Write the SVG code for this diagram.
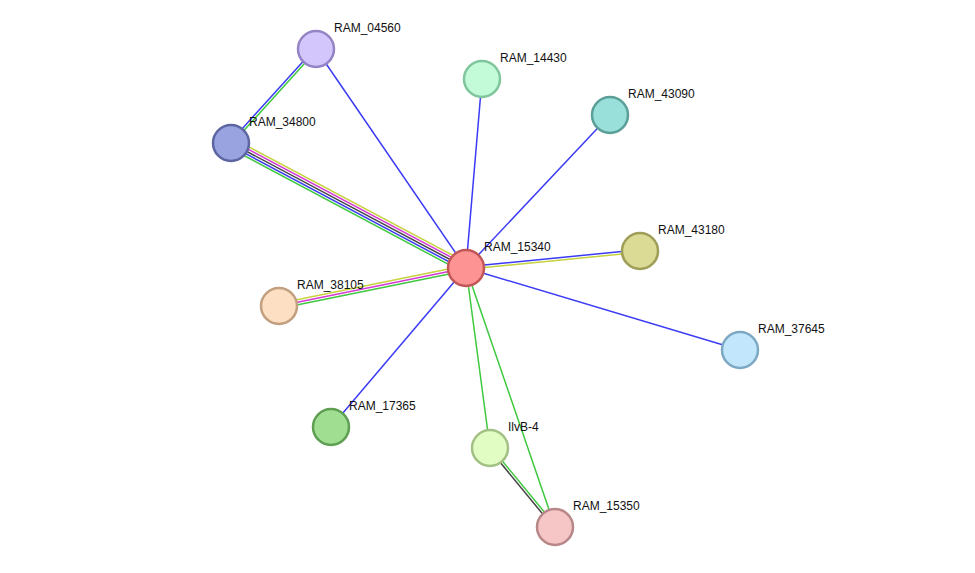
<svg xmlns="http://www.w3.org/2000/svg" width="975" height="573" viewBox="0 0 975 573">
<style>
.e{stroke-width:1.5;fill:none}
.b{stroke:#3b3bf5}.g{stroke:#3ec93e}.y{stroke:#c6d23e}.m{stroke:#d63ad6}.k{stroke:#444444}
.n circle{stroke-width:2.5}
.n text{font-family:"Liberation Sans",Arial,sans-serif;font-size:12px;fill:#111}
</style>
<rect width="975" height="573" fill="#ffffff"/>
<g id="edges">
<line class="e y" x1="233.35" y1="138.58" x2="468.35" y2="263.58"/>
<line class="e m" x1="232.18" y1="140.79" x2="467.18" y2="265.79"/>
<line class="e k" x1="231" y1="143" x2="466" y2="268"/>
<line class="e b" x1="229.83" y1="145.21" x2="464.83" y2="270.21"/>
<line class="e g" x1="228.65" y1="147.42" x2="463.65" y2="272.42"/>
<line class="e y" x1="278.5" y1="303.55" x2="465.5" y2="265.55"/>
<line class="e m" x1="279" y1="306" x2="466" y2="268"/>
<line class="e g" x1="279.5" y1="308.45" x2="466.5" y2="270.45"/>
<line class="e b" x1="315.07" y1="48.16" x2="230.07" y2="142.16"/>
<line class="e g" x1="316.93" y1="49.84" x2="231.93" y2="143.84"/>
<line class="e b" x1="316" y1="49" x2="466" y2="268"/>
<line class="e b" x1="482" y1="79" x2="466" y2="268"/>
<line class="e b" x1="610" y1="115" x2="466" y2="268"/>
<line class="e b" x1="639.88" y1="249.76" x2="465.88" y2="266.76"/>
<line class="e y" x1="640.12" y1="252.24" x2="466.12" y2="269.24"/>
<line class="e b" x1="740" y1="350" x2="466" y2="268"/>
<line class="e b" x1="331" y1="427" x2="466" y2="268"/>
<line class="e g" x1="490" y1="448" x2="466" y2="268"/>
<line class="e g" x1="555" y1="527" x2="466" y2="268"/>
<line class="e g" x1="490.97" y1="447.21" x2="555.97" y2="526.21"/>
<line class="e k" x1="489.03" y1="448.79" x2="554.03" y2="527.79"/>
</g>
<g id="RAM_04560" class="n"><circle cx="316" cy="49" r="18" fill="#d3c6fc" stroke="#9584c5"/><text x="334" y="32">RAM_04560</text></g>
<g id="RAM_14430" class="n"><circle cx="482" cy="79" r="18" fill="#c3fad8" stroke="#80c69c"/><text x="500" y="62">RAM_14430</text></g>
<g id="RAM_43090" class="n"><circle cx="610" cy="115" r="18" fill="#98e0d9" stroke="#5b9f98"/><text x="628" y="98">RAM_43090</text></g>
<g id="RAM_34800" class="n"><circle cx="231" cy="143" r="18" fill="#99a3e0" stroke="#5d66a2"/><text x="249" y="126">RAM_34800</text></g>
<g id="RAM_15340" class="n"><circle cx="466" cy="268" r="18" fill="#fd9393" stroke="#c25757"/><text x="484" y="251">RAM_15340</text></g>
<g id="RAM_43180" class="n"><circle cx="640" cy="251" r="18" fill="#dcdb95" stroke="#9f9e58"/><text x="658" y="234">RAM_43180</text></g>
<g id="RAM_38105" class="n"><circle cx="279" cy="306" r="18" fill="#fde0c4" stroke="#c29f7f"/><text x="297" y="289">RAM_38105</text></g>
<g id="RAM_37645" class="n"><circle cx="740" cy="350" r="18" fill="#c2e6fb" stroke="#7ea9c4"/><text x="758" y="333">RAM_37645</text></g>
<g id="RAM_17365" class="n"><circle cx="331" cy="427" r="18" fill="#a0df92" stroke="#5f9f53"/><text x="349" y="410">RAM_17365</text></g>
<g id="IlvB-4" class="n"><circle cx="490" cy="448" r="18" fill="#e2fdc4" stroke="#a4c185"/><text x="508" y="431">IlvB-4</text></g>
<g id="RAM_15350" class="n"><circle cx="555" cy="527" r="18" fill="#f6c6c6" stroke="#b88787"/><text x="573" y="510">RAM_15350</text></g>
</svg>
